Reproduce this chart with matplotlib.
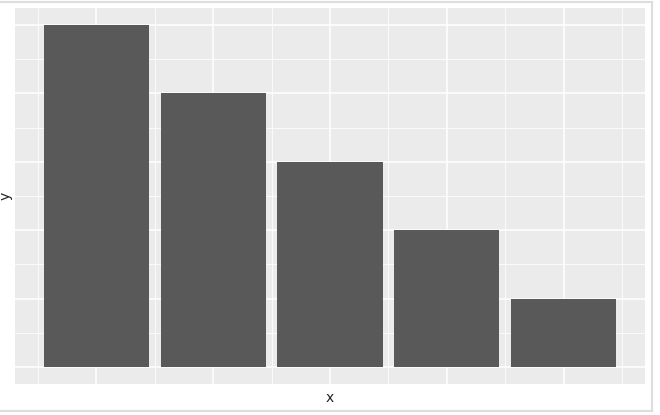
import matplotlib as mpl
mpl.use("Agg")
import matplotlib.pyplot as plt
import numpy as np

# data
categories = [1, 2, 3, 4, 5]
values = [5, 4, 3, 2, 1]

W, H = 660, 415
fig = plt.figure(figsize=(W / 100, H / 100), dpi=100)
fig.patch.set_facecolor("white")

# panel in pixel coords: left 15, right 645, top 8, bottom 384
ax = fig.add_axes([15 / W, (H - 384) / H, 630 / W, 376 / H])
ax.set_facecolor("#EBEBEB")

ax.bar(categories, values, width=0.9, color="#595959", zorder=3)

# ggplot-like continuous scales with 5% expansion
xlo, xhi = 0.55, 5.45
xpad = (xhi - xlo) * 0.05
ax.set_xlim(xlo - xpad, xhi + xpad)
ypad = max(values) * 0.05
ax.set_ylim(-ypad, max(values) + ypad)

ax.set_xticks(categories)
ax.set_xticks(np.arange(0.5, 6, 1.0), minor=True)
ax.set_yticks(np.arange(0, 6, 1))
ax.set_yticks(np.arange(0.5, 5, 1.0), minor=True)
ax.grid(which="major", color="white", linewidth=1.1, zorder=1)
ax.grid(which="minor", color="white", linewidth=0.55, zorder=1)
ax.tick_params(which="both", length=0, labelbottom=False, labelleft=False)
for s in ax.spines.values():
    s.set_visible(False)
ax.set_axisbelow(True)

fig.text(330 / W, 1 - 398 / H, "x", ha="center", va="center", fontsize=10, color="#222222")
fig.text(6 / W, 1 - 196 / H, "y", ha="center", va="center", rotation=90, fontsize=10, color="#222222")

# light frame around the screenshot
frame = dict(color="#DDDDDD", linewidth=1.5, transform=fig.transFigure)
fig.add_artist(plt.Line2D([0, 652 / W], [1 - 2.5 / H, 1 - 2.5 / H], **frame))
fig.add_artist(plt.Line2D([652 / W, 652 / W], [1 - 2.5 / H, 1 - 411 / H], **frame))
fig.add_artist(plt.Line2D([0, 652 / W], [1 - 411 / H, 1 - 411 / H], **frame))

fig.savefig("out.png", dpi=100)
